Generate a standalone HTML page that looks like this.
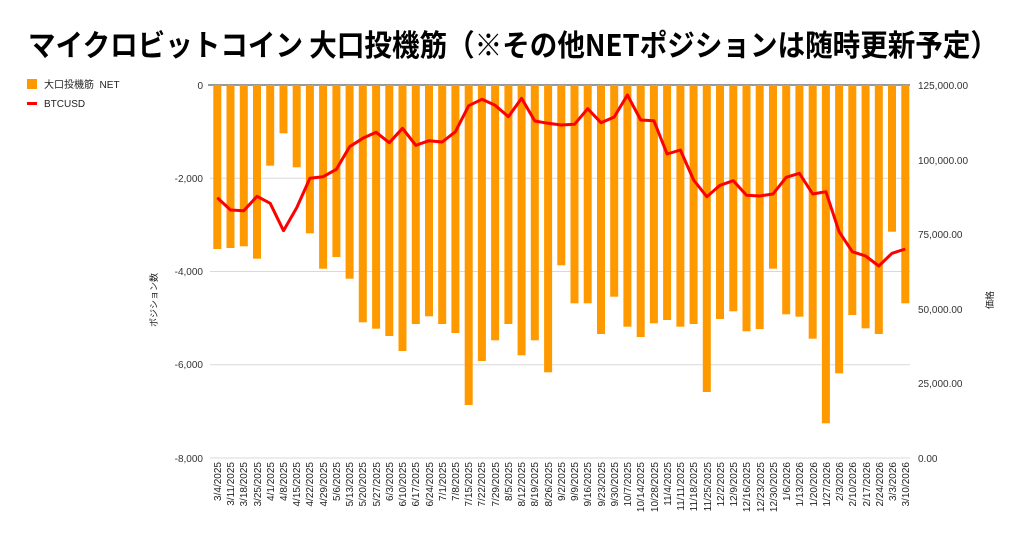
<!DOCTYPE html>
<html><head><meta charset="utf-8"><style>
html,body{margin:0;padding:0;background:#fff;}
svg text{font-family:"Liberation Sans","Noto Sans CJK JP",sans-serif;}
</style></head><body>
<svg width="1024" height="541" viewBox="0 0 1024 541" xmlns="http://www.w3.org/2000/svg">
<rect width="1024" height="541" fill="#fff"/>
<text x="28" y="56" font-size="30" font-weight="bold" fill="#000" textLength="970" lengthAdjust="spacingAndGlyphs" style="font-family:'Noto Sans CJK JP',sans-serif">マイクロビットコイン 大口投機筋（※その他NETポジションは随時更新予定）</text>
<rect x="27" y="79" width="10" height="10" fill="#ff9900"/>
<text x="44" y="88" font-size="10" fill="#222">大口投機筋 &#160;NET</text>
<rect x="27" y="102" width="10" height="3" fill="#ff0000"/>
<text x="44" y="107" font-size="10" fill="#222">BTCUSD</text>
<g stroke="#d9d9d9" stroke-width="1">
<line x1="210" x2="910" y1="178.3" y2="178.3"/>
<line x1="210" x2="910" y1="271.5" y2="271.5"/>
<line x1="210" x2="910" y1="364.7" y2="364.7"/>
<line x1="210" x2="910" y1="458" y2="458"/>
</g>
<line x1="208" x2="910" y1="85" y2="85" stroke="#333" stroke-width="1"/>
<g font-size="10" fill="#333" text-anchor="end">
<text x="203" y="89">0</text>
<text x="203" y="182">-2,000</text>
<text x="203" y="275">-4,000</text>
<text x="203" y="368">-6,000</text>
<text x="203" y="462">-8,000</text>
</g>
<g font-size="10" fill="#333" text-anchor="start">
<text x="918" y="89">125,000.00</text>
<text x="918" y="164">100,000.00</text>
<text x="918" y="238">75,000.00</text>
<text x="918" y="313">50,000.00</text>
<text x="918" y="387">25,000.00</text>
<text x="918" y="462">0.00</text>
</g>
<text transform="translate(157,300) rotate(-90)" font-size="9" fill="#222" text-anchor="middle">ポジション数</text>
<text transform="translate(993,300) rotate(-90)" font-size="9" fill="#222" text-anchor="middle">価格</text>
<g fill="#ff9900">
<rect x="213.3" y="85" width="8" height="164"/>
<rect x="226.5" y="85" width="8" height="163"/>
<rect x="239.8" y="85" width="8" height="161.3"/>
<rect x="253.0" y="85" width="8" height="173.7"/>
<rect x="266.2" y="85" width="8" height="80.7"/>
<rect x="279.5" y="85" width="8" height="48.3"/>
<rect x="292.7" y="85" width="8" height="82.3"/>
<rect x="305.9" y="85" width="8" height="148.3"/>
<rect x="319.1" y="85" width="8" height="183.7"/>
<rect x="332.4" y="85" width="8" height="172"/>
<rect x="345.6" y="85" width="8" height="193.7"/>
<rect x="358.8" y="85" width="8" height="237.3"/>
<rect x="372.1" y="85" width="8" height="243.7"/>
<rect x="385.3" y="85" width="8" height="251"/>
<rect x="398.5" y="85" width="8" height="266"/>
<rect x="411.8" y="85" width="8" height="239"/>
<rect x="425.0" y="85" width="8" height="231.3"/>
<rect x="438.2" y="85" width="8" height="239"/>
<rect x="451.4" y="85" width="8" height="248"/>
<rect x="464.7" y="85" width="8" height="320"/>
<rect x="477.9" y="85" width="8" height="276"/>
<rect x="491.1" y="85" width="8" height="255.3"/>
<rect x="504.4" y="85" width="8" height="239"/>
<rect x="517.6" y="85" width="8" height="270.3"/>
<rect x="530.8" y="85" width="8" height="255.3"/>
<rect x="544.1" y="85" width="8" height="287.3"/>
<rect x="557.3" y="85" width="8" height="180.3"/>
<rect x="570.5" y="85" width="8" height="218.3"/>
<rect x="583.7" y="85" width="8" height="218.3"/>
<rect x="597.0" y="85" width="8" height="249"/>
<rect x="610.2" y="85" width="8" height="211.7"/>
<rect x="623.4" y="85" width="8" height="241.7"/>
<rect x="636.7" y="85" width="8" height="252"/>
<rect x="649.9" y="85" width="8" height="238.3"/>
<rect x="663.1" y="85" width="8" height="235"/>
<rect x="676.4" y="85" width="8" height="241.7"/>
<rect x="689.6" y="85" width="8" height="239"/>
<rect x="702.8" y="85" width="8" height="307"/>
<rect x="716.0" y="85" width="8" height="234"/>
<rect x="729.3" y="85" width="8" height="226.3"/>
<rect x="742.5" y="85" width="8" height="246.3"/>
<rect x="755.7" y="85" width="8" height="244"/>
<rect x="769.0" y="85" width="8" height="183.7"/>
<rect x="782.2" y="85" width="8" height="229.3"/>
<rect x="795.4" y="85" width="8" height="231.7"/>
<rect x="808.7" y="85" width="8" height="253.7"/>
<rect x="821.9" y="85" width="8" height="338.3"/>
<rect x="835.1" y="85" width="8" height="288.3"/>
<rect x="848.3" y="85" width="8" height="230"/>
<rect x="861.6" y="85" width="8" height="243.3"/>
<rect x="874.8" y="85" width="8" height="249"/>
<rect x="888.0" y="85" width="8" height="146.7"/>
<rect x="901.3" y="85" width="8" height="218.3"/>
</g>
<polyline fill="none" stroke="#ff0000" stroke-width="3" stroke-linejoin="round" points="217.3,197.7 230.5,210 243.8,210.7 257,196.3 270.2,203.3 283.5,230.7 296.7,207.7 309.9,178.3 323.1,176.7 336.4,169.3 349.6,146.7 362.8,138.3 376.1,132.3 389.3,142.7 402.5,128.3 415.8,145.3 429,140.7 442.2,142 455.4,131.7 468.7,105.7 481.9,99.3 495.1,105.3 508.4,116.7 521.6,98.3 534.8,121 548.1,123.3 561.3,125 574.5,124.3 587.7,108.7 601,122.7 614.2,117 627.4,95 640.7,120 653.9,120.7 667.1,154 680.4,150 693.6,180 706.8,196.7 720,185.3 733.3,180.7 746.5,195.3 759.7,196 773,194 786.2,177.3 799.4,173.3 812.7,194 825.9,191.7 839.1,231.7 852.3,251.7 865.6,256 878.8,266 892,253.3 905.3,249"/>
<g font-size="10" fill="#222" text-anchor="end">
<text transform="translate(221,462) rotate(-90)">3/4/2025</text>
<text transform="translate(234,462) rotate(-90)">3/11/2025</text>
<text transform="translate(247,462) rotate(-90)">3/18/2025</text>
<text transform="translate(261,462) rotate(-90)">3/25/2025</text>
<text transform="translate(274,462) rotate(-90)">4/1/2025</text>
<text transform="translate(287,462) rotate(-90)">4/8/2025</text>
<text transform="translate(300,462) rotate(-90)">4/15/2025</text>
<text transform="translate(313,462) rotate(-90)">4/22/2025</text>
<text transform="translate(327,462) rotate(-90)">4/29/2025</text>
<text transform="translate(340,462) rotate(-90)">5/6/2025</text>
<text transform="translate(353,462) rotate(-90)">5/13/2025</text>
<text transform="translate(366,462) rotate(-90)">5/20/2025</text>
<text transform="translate(380,462) rotate(-90)">5/27/2025</text>
<text transform="translate(393,462) rotate(-90)">6/3/2025</text>
<text transform="translate(406,462) rotate(-90)">6/10/2025</text>
<text transform="translate(419,462) rotate(-90)">6/17/2025</text>
<text transform="translate(433,462) rotate(-90)">6/24/2025</text>
<text transform="translate(446,462) rotate(-90)">7/1/2025</text>
<text transform="translate(459,462) rotate(-90)">7/8/2025</text>
<text transform="translate(472,462) rotate(-90)">7/15/2025</text>
<text transform="translate(485,462) rotate(-90)">7/22/2025</text>
<text transform="translate(499,462) rotate(-90)">7/29/2025</text>
<text transform="translate(512,462) rotate(-90)">8/5/2025</text>
<text transform="translate(525,462) rotate(-90)">8/12/2025</text>
<text transform="translate(538,462) rotate(-90)">8/19/2025</text>
<text transform="translate(552,462) rotate(-90)">8/26/2025</text>
<text transform="translate(565,462) rotate(-90)">9/2/2025</text>
<text transform="translate(578,462) rotate(-90)">9/9/2025</text>
<text transform="translate(591,462) rotate(-90)">9/16/2025</text>
<text transform="translate(605,462) rotate(-90)">9/23/2025</text>
<text transform="translate(618,462) rotate(-90)">9/30/2025</text>
<text transform="translate(631,462) rotate(-90)">10/7/2025</text>
<text transform="translate(644,462) rotate(-90)">10/14/2025</text>
<text transform="translate(658,462) rotate(-90)">10/28/2025</text>
<text transform="translate(671,462) rotate(-90)">11/4/2025</text>
<text transform="translate(684,462) rotate(-90)">11/11/2025</text>
<text transform="translate(697,462) rotate(-90)">11/18/2025</text>
<text transform="translate(711,462) rotate(-90)">11/25/2025</text>
<text transform="translate(724,462) rotate(-90)">12/2/2025</text>
<text transform="translate(737,462) rotate(-90)">12/9/2025</text>
<text transform="translate(750,462) rotate(-90)">12/16/2025</text>
<text transform="translate(764,462) rotate(-90)">12/23/2025</text>
<text transform="translate(777,462) rotate(-90)">12/30/2025</text>
<text transform="translate(790,462) rotate(-90)">1/6/2026</text>
<text transform="translate(803,462) rotate(-90)">1/13/2026</text>
<text transform="translate(817,462) rotate(-90)">1/20/2026</text>
<text transform="translate(830,462) rotate(-90)">1/27/2026</text>
<text transform="translate(843,462) rotate(-90)">2/3/2026</text>
<text transform="translate(856,462) rotate(-90)">2/10/2026</text>
<text transform="translate(870,462) rotate(-90)">2/17/2026</text>
<text transform="translate(883,462) rotate(-90)">2/24/2026</text>
<text transform="translate(896,462) rotate(-90)">3/3/2026</text>
<text transform="translate(909,462) rotate(-90)">3/10/2026</text>
</g>
</svg>
</body></html>
